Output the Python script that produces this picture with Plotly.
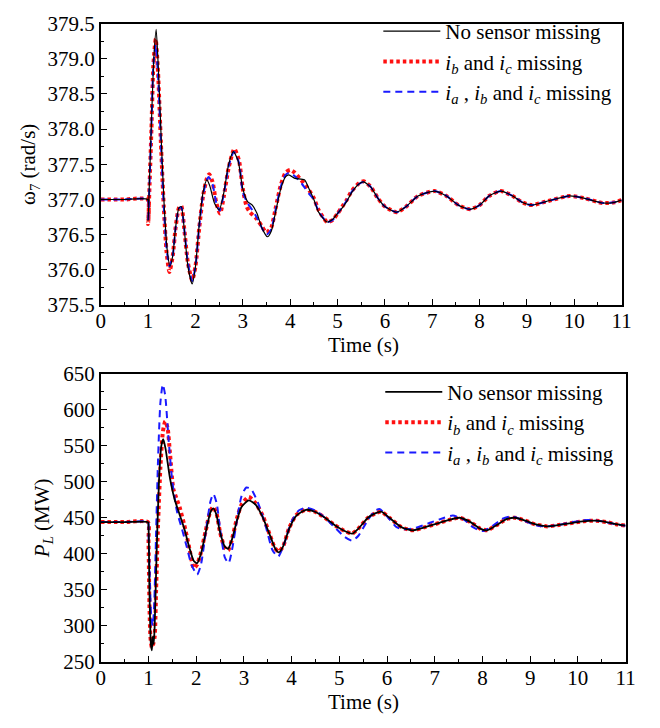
import plotly.graph_objects as go

# ---------------- Top panel: omega_7 (rad/s) ----------------
t_w_black = [0, 0.5, 0.99, 1.0, 1.03, 1.07, 1.12, 1.17, 1.22, 1.28, 1.34, 1.4, 1.46, 1.52, 1.58, 1.65, 1.7,
             1.76, 1.84, 1.93, 2.0, 2.08, 2.16, 2.24, 2.3, 2.4, 2.5, 2.6, 2.7, 2.8, 2.9, 3.0, 3.1, 3.2, 3.3,
             3.4, 3.52, 3.6, 3.7, 3.8, 3.9, 3.97, 4.1, 4.3, 4.4, 4.5, 4.6, 4.78, 4.9, 5.0, 5.1, 5.2, 5.3,
             5.45, 5.55, 5.7, 5.85, 6.0, 6.25, 6.45, 6.7, 7.05, 7.3, 7.55, 7.8, 8.0, 8.2, 8.45, 8.7, 8.9,
             9.1, 9.4, 9.9, 10.2, 10.6, 10.85, 11.0]
w_black = [377.0, 377.0, 377.0, 376.7, 377.3, 378.1, 379.0, 379.42, 378.8, 377.8, 376.9, 376.3, 376.05,
           376.2, 376.6, 376.88, 376.9, 376.6, 376.05, 375.8, 376.05, 376.65, 377.1, 377.28, 377.2, 376.95,
           376.85, 377.1, 377.5, 377.68, 377.55, 377.15, 376.97, 376.92, 376.8, 376.6, 376.47, 376.55,
           376.85, 377.15, 377.32, 377.35, 377.3, 377.28, 377.15, 377.0, 376.82, 376.68, 376.72, 376.8,
           376.88, 376.98, 377.1, 377.22, 377.25, 377.18, 377.02, 376.9, 376.82, 376.9, 377.05, 377.12,
           377.05, 376.92, 376.86, 376.92, 377.05, 377.12, 377.05, 376.96, 376.92, 376.97, 377.05,
           377.02, 376.95, 376.96, 376.99]

t_w_red = [0, 0.5, 0.99, 1.0, 1.03, 1.07, 1.11, 1.16, 1.21, 1.27, 1.33, 1.39, 1.45, 1.52, 1.58, 1.65, 1.7,
           1.76, 1.84, 1.93, 2.0, 2.08, 2.16, 2.24, 2.29, 2.36, 2.44, 2.52, 2.6, 2.7, 2.82, 2.92, 3.0, 3.08,
           3.15, 3.3, 3.4, 3.5, 3.6, 3.7, 3.8, 3.9, 4.0, 4.1, 4.2, 4.35, 4.5, 4.6, 4.78, 4.9, 5.0, 5.1, 5.2,
           5.3, 5.45, 5.55, 5.7, 5.85, 6.0, 6.25, 6.45, 6.7, 7.05, 7.3, 7.55, 7.8, 8.0, 8.2, 8.45, 8.7, 8.9,
           9.1, 9.4, 9.9, 10.2, 10.6, 10.85, 11.0]
w_red = [377.0, 377.0, 377.0, 376.65, 377.2, 378.0, 378.9, 379.28, 378.8, 377.8, 376.9, 376.25, 375.97,
         376.2, 376.6, 376.88, 376.91, 376.6, 376.1, 375.85, 376.05, 376.6, 377.05, 377.3, 377.36, 377.25,
         376.95, 376.8, 377.05, 377.45, 377.72, 377.55, 377.15, 376.9, 376.82, 376.72, 376.62, 376.53,
         376.6, 376.9, 377.2, 377.38, 377.42, 377.38, 377.3, 377.18, 377.02, 376.85, 376.68, 376.71,
         376.8, 376.9, 377.0, 377.12, 377.23, 377.26, 377.18, 377.02, 376.9, 376.82, 376.9, 377.05,
         377.12, 377.05, 376.92, 376.86, 376.92, 377.05, 377.12, 377.05, 376.96, 376.92, 376.97, 377.05,
         377.02, 376.95, 376.96, 376.99]

t_w_blue = [0, 0.5, 0.99, 1.0, 1.03, 1.07, 1.11, 1.16, 1.21, 1.27, 1.33, 1.39, 1.45, 1.52, 1.58, 1.65, 1.7,
            1.76, 1.84, 1.93, 2.0, 2.08, 2.16, 2.24, 2.28, 2.36, 2.44, 2.51, 2.6, 2.7, 2.81, 2.92, 3.0,
            3.1, 3.2, 3.3, 3.4, 3.5, 3.6, 3.7, 3.8, 3.9, 3.98, 4.1, 4.25, 4.4, 4.5, 4.6, 4.78, 4.9, 5.0,
            5.1, 5.2, 5.3, 5.45, 5.55, 5.7, 5.85, 6.0, 6.25, 6.45, 6.7, 7.05, 7.3, 7.55, 7.8, 8.0, 8.2,
            8.45, 8.7, 8.9, 9.1, 9.4, 9.9, 10.2, 10.6, 10.85, 11.0]
w_blue = [377.0, 377.0, 377.0, 376.68, 377.25, 378.05, 378.9, 379.2, 378.75, 377.8, 376.9, 376.3, 376.05,
          376.2, 376.6, 376.87, 376.89, 376.6, 376.1, 375.84, 376.05, 376.62, 377.07, 377.28, 377.32,
          377.22, 376.95, 376.84, 377.08, 377.47, 377.68, 377.52, 377.1, 376.95, 376.85, 376.74, 376.6,
          376.5, 376.58, 376.88, 377.18, 377.35, 377.38, 377.33, 377.22, 377.08, 377.0, 376.83, 376.68,
          376.71, 376.8, 376.89, 376.99, 377.11, 377.22, 377.25, 377.18, 377.02, 376.9, 376.82, 376.9,
          377.05, 377.12, 377.05, 376.92, 376.86, 376.92, 377.05, 377.12, 377.05, 376.96, 376.92, 376.97,
          377.05, 377.02, 376.95, 376.96, 376.99]

# ---------------- Bottom panel: P_L (MW) ----------------
t_p_black = [0, 0.5, 0.99, 1.0, 1.02, 1.05, 1.07, 1.09, 1.11, 1.13, 1.17, 1.22, 1.27, 1.31, 1.36, 1.45, 1.55,
             1.65, 1.75, 1.85, 1.95, 2.02, 2.1, 2.2, 2.3, 2.36, 2.42, 2.5, 2.6, 2.67, 2.75, 2.85, 2.95, 3.1,
             3.25, 3.4, 3.55, 3.65, 3.73, 3.82, 3.95, 4.1, 4.3, 4.5, 4.7, 4.9, 5.1, 5.27, 5.4, 5.6, 5.75,
             5.88, 6.05, 6.3, 6.53, 6.8, 7.1, 7.3, 7.52, 7.75, 7.95, 8.1, 8.3, 8.5, 8.68, 8.9, 9.1, 9.36,
             9.6, 9.9, 10.1, 10.38, 10.6, 10.8, 11.0]
p_black = [444, 444, 444, 440, 350, 275, 266, 285, 275, 300, 400, 500, 550, 559, 545, 505, 475, 455, 435,
           410, 390, 387, 400, 430, 458, 463, 455, 430, 410, 407, 420, 445, 465, 474, 468, 450, 425, 408,
           402, 410, 435, 453, 461, 458, 450, 440, 432, 428, 435, 450, 456, 458.5, 450, 437, 432.6, 437,
           443, 447, 450, 444, 435, 432.6, 440, 448, 450, 446, 441, 438, 440, 443, 445, 446, 444, 441, 439]

t_p_red = [0, 0.5, 0.99, 1.0, 1.02, 1.04, 1.07, 1.1, 1.13, 1.16, 1.2, 1.25, 1.3, 1.35, 1.4, 1.45, 1.52,
           1.58, 1.65, 1.75, 1.85, 1.95, 2.02, 2.1, 2.2, 2.3, 2.36, 2.43, 2.5, 2.6, 2.67, 2.75, 2.85, 2.95,
           3.1, 3.25, 3.4, 3.55, 3.65, 3.73, 3.82, 3.95, 4.1, 4.3, 4.5, 4.7, 4.9, 5.1, 5.27, 5.4, 5.6, 5.75,
           5.88, 6.05, 6.3, 6.53, 6.8, 7.1, 7.3, 7.52, 7.75, 7.95, 8.1, 8.3, 8.5, 8.68, 8.9, 9.1, 9.36,
           9.6, 9.9, 10.1, 10.38, 10.6, 10.8, 11.0]
p_red = [444, 444, 444, 420, 330, 285, 270, 275, 285, 350, 440, 520, 568, 584, 575, 540, 490, 478, 465,
         440, 410, 380, 385, 402, 432, 460, 465, 455, 430, 408, 405, 420, 448, 468, 479, 470, 452, 425,
         408, 403, 410, 436, 454, 461, 458, 450, 440, 432, 428, 435, 450, 456, 458.5, 450, 437, 432.6, 437,
         443, 447, 450, 444, 435, 432.6, 440, 448, 450, 446, 441, 438, 440, 443, 445, 446, 444, 441, 439]

t_p_blue = [0, 0.5, 0.99, 1.0, 1.03, 1.06, 1.09, 1.12, 1.16, 1.2, 1.25, 1.3, 1.35, 1.42, 1.5, 1.6, 1.7,
            1.8, 1.9, 2.02, 2.1, 2.2, 2.3, 2.36, 2.43, 2.5, 2.6, 2.68, 2.75, 2.85, 2.95, 3.05, 3.15, 3.3,
            3.45, 3.6, 3.72, 3.85, 4.0, 4.15, 4.3, 4.5, 4.7, 4.9, 5.1, 5.27, 5.4, 5.6, 5.75, 5.85, 6.0,
            6.2, 6.35, 6.6, 6.9, 7.2, 7.38, 7.6, 7.8, 8.0, 8.2, 8.4, 8.6, 8.8, 9.1, 9.3, 9.6, 9.9, 10.2,
            10.5, 10.8, 11.0]
p_blue = [444, 444, 444, 430, 360, 310, 300, 330, 430, 530, 610, 635, 620, 560, 500, 458, 435, 410, 385,
          371, 385, 430, 473, 483, 470, 435, 395, 387, 405, 445, 480, 492, 490, 470, 440, 405, 396, 415,
          445, 460, 464, 460, 450, 437, 424, 418, 425, 447, 460, 462, 452, 437, 434, 436, 443, 450, 453,
          448, 437, 431.6, 438, 448, 452, 448, 440, 438, 440, 444, 447, 445, 441, 439]

x_ticks = list(range(0, 12))
w_ticks = [375.5, 376.0, 376.5, 377.0, 377.5, 378.0, 378.5, 379.0, 379.5]
w_tick_labels = ["375.5", "376.0", "376.5", "377.0", "377.5", "378.0", "378.5", "379.0", "379.5"]
p_ticks = [250, 300, 350, 400, 450, 500, 550, 600, 650]
p_tick_labels = ["250", "300", "350", "400", "450", "500", "550", "600", "650"]

names = ["No sensor missing",
         "<i>i<sub>b</sub></i> and <i>i<sub>c</sub></i> missing",
         "<i>i<sub>a</sub></i> , <i>i<sub>b</sub></i> and <i>i<sub>c</sub></i> missing"]

FONT = "Liberation Serif"
FS = 21

red_line = dict(color="#ff1010", width=4, dash="3.5px,3px")
blue_line = dict(color="#1a1aff", width=2, dash="7px,5px")

fig = go.Figure()

# top panel (draw order: red, blue, black)
fig.add_trace(go.Scatter(x=t_w_red, y=w_red, mode="lines", line=dict(shape="spline", smoothing=0.6, **red_line),
                         name=names[1], legend="legend", legendrank=2, xaxis="x", yaxis="y"))
fig.add_trace(go.Scatter(x=t_w_blue, y=w_blue, mode="lines", line=dict(shape="spline", smoothing=0.6, **blue_line),
                         name=names[2], legend="legend", legendrank=3, xaxis="x", yaxis="y"))
fig.add_trace(go.Scatter(x=t_w_black, y=w_black, mode="lines",
                         line=dict(color="black", width=1.2, shape="spline", smoothing=0.6),
                         name=names[0], legend="legend", legendrank=1, xaxis="x", yaxis="y"))

# bottom panel
fig.add_trace(go.Scatter(x=t_p_red, y=p_red, mode="lines", line=dict(shape="spline", smoothing=0.6, **red_line),
                         name=names[1], legend="legend2", legendrank=2, xaxis="x2", yaxis="y2"))
fig.add_trace(go.Scatter(x=t_p_blue, y=p_blue, mode="lines", line=dict(shape="spline", smoothing=0.6, **blue_line),
                         name=names[2], legend="legend2", legendrank=3, xaxis="x2", yaxis="y2"))
fig.add_trace(go.Scatter(x=t_p_black, y=p_black, mode="lines",
                         line=dict(color="black", width=1.8, shape="spline", smoothing=0.6),
                         name=names[0], legend="legend2", legendrank=1, xaxis="x2", yaxis="y2"))

W, H = 660, 728

def xax(domain, anchor):
    return dict(domain=domain, anchor=anchor, range=[0, 11], tickvals=x_ticks,
                ticks="inside", ticklen=6, tickwidth=1.3, tickcolor="black", ticklabelstandoff=-4,
                minor=dict(dtick=0.5, tick0=0, ticks="inside", ticklen=3.5, tickwidth=1.2, tickcolor="black"),
                showline=True, linecolor="black", linewidth=1.5, mirror=True, showgrid=False, zeroline=False,
                tickfont=dict(family=FONT, size=FS, color="black"))

def yax(domain, anchor, rng, ticks, labels, minor_dt, title, standoff):
    return dict(domain=domain, anchor=anchor, range=rng, tickvals=ticks, ticktext=labels,
                ticks="inside", ticklen=6, tickwidth=1.3, tickcolor="black",
                minor=dict(dtick=minor_dt, tick0=rng[0], ticks="inside", ticklen=3.5, tickwidth=1.2, tickcolor="black"),
                showline=True, linecolor="black", linewidth=1.5, mirror=True, showgrid=False, zeroline=False,
                tickfont=dict(family=FONT, size=FS, color="black"),
                title=dict(text=title, font=dict(family=FONT, size=FS, color="black"), standoff=standoff))

leg_font = dict(family=FONT, size=FS, color="black")

fig.update_layout(
    width=W, height=H,
    margin=dict(l=0, r=0, t=0, b=0),
    paper_bgcolor="white", plot_bgcolor="white",
    font=dict(family=FONT, size=FS, color="black"),
    xaxis=xax([98 / W, 631 / W], "y"),
    yaxis=yax([1 - 303 / H, 1 - 12 / H], "x", [375.5, 379.5], w_ticks, w_tick_labels, 0.25,
              "ω<sub>7</sub> (rad/s)", 6),
    xaxis2=xax([98 / W, 635 / W], "y2"),
    yaxis2=yax([1 - 672 / H, 1 - 374 / H], "x2", [250, 650], p_ticks, p_tick_labels, 25,
               "<i>P<sub>L</sub></i> (MW)", 8),
    legend=dict(x=382 / W, y=1 + 1 / H, xanchor="left", yanchor="top", bgcolor="rgba(0,0,0,0)",
                font=leg_font, tracegroupgap=0, itemwidth=57),
    legend2=dict(x=384 / W, y=1 - 372 / H, xanchor="left", yanchor="top", bgcolor="rgba(0,0,0,0)",
                 font=leg_font, tracegroupgap=0, itemwidth=57),
    showlegend=True,
    annotations=[
        dict(text="Time (s)", xref="paper", yref="paper", x=367 / W, y=1 - 344 / H,
             xanchor="center", yanchor="middle", showarrow=False, font=leg_font),
        dict(text="Time (s)", xref="paper", yref="paper", x=367 / W, y=1 - 714 / H,
             xanchor="center", yanchor="middle", showarrow=False, font=leg_font),
    ],
)

fig.write_html("out.html")
